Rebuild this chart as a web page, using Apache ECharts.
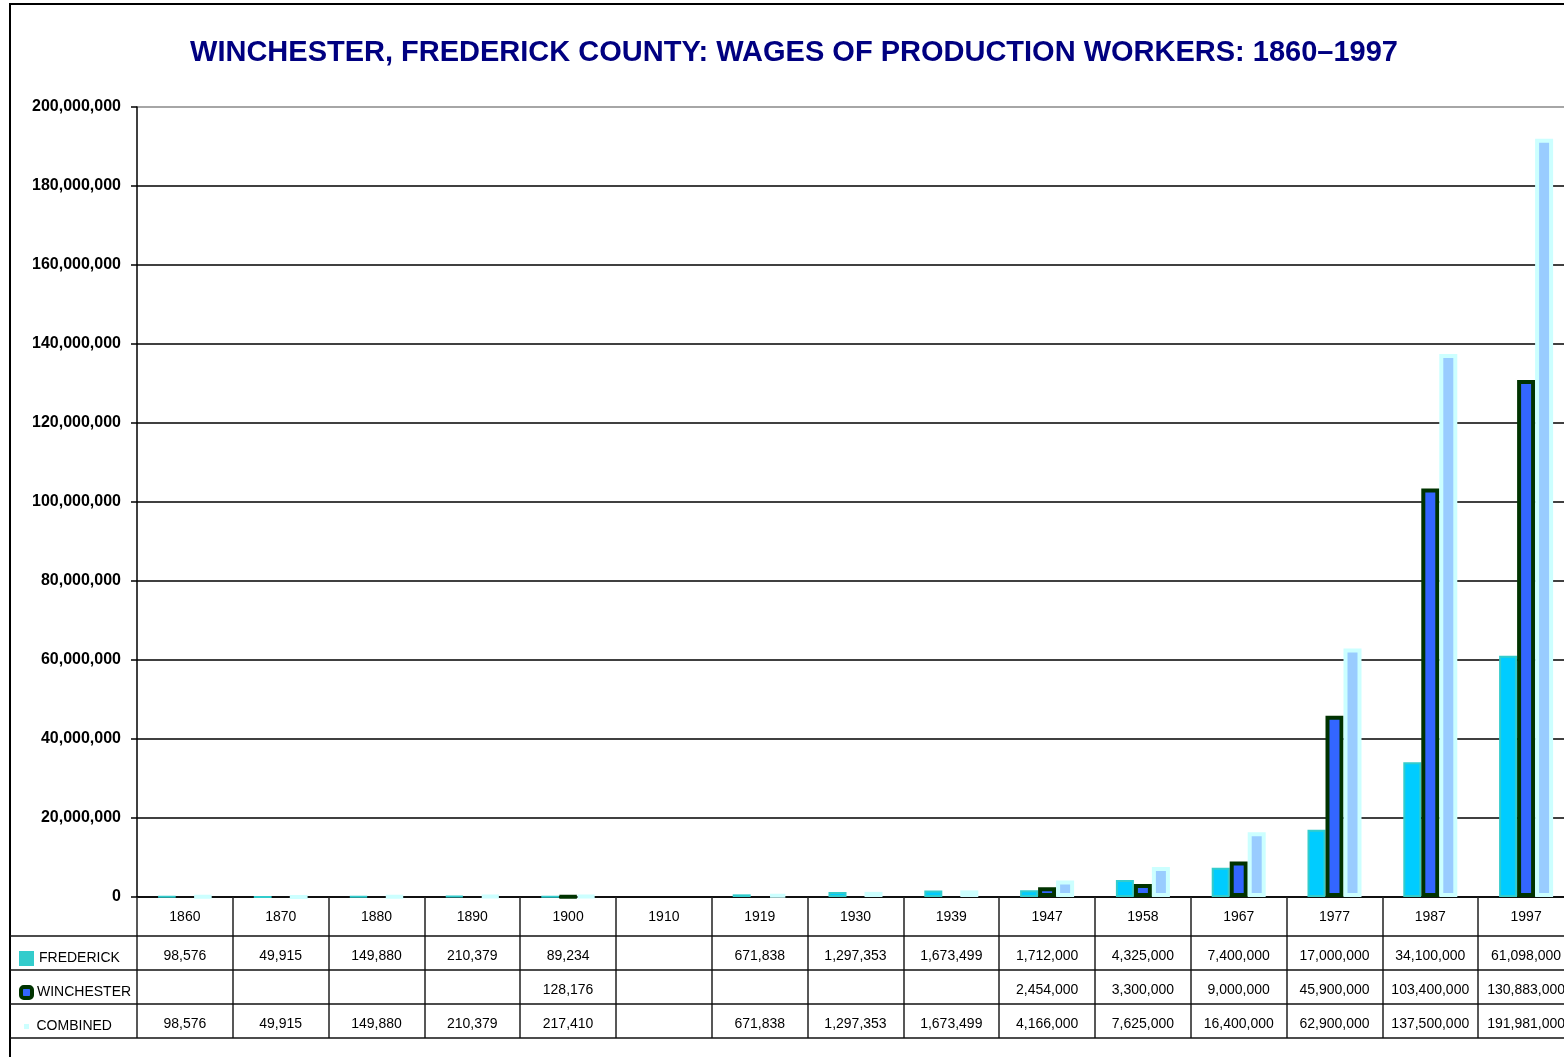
<!DOCTYPE html>
<html>
<head>
<meta charset="utf-8">
<script src="https://cdn.jsdelivr.net/npm/echarts@6/dist/echarts.min.js"></script>
<style>
  html, body { margin: 0; padding: 0; background: #fff; }
  #chart { width: 1564px; height: 1057px; }
</style>
</head>
<body>
<div id="chart"></div>
<script>
const years = ['1860', '1870', '1880', '1890', '1900', '1910', '1919', '1930', '1939', '1947', '1958', '1967', '1977', '1987', '1997'];
const frederick = [98576, 49915, 149880, 210379, 89234, null, 671838, 1297353, 1673499, 1712000, 4325000, 7400000, 17000000, 34100000, 61098000];
const winchester = [null, null, null, null, 128176, null, null, null, null, 2454000, 3300000, 9000000, 45900000, 103400000, 130883000];
const combined = [98576, 49915, 149880, 210379, 217410, null, 671838, 1297353, 1673499, 4166000, 7625000, 16400000, 62900000, 137500000, 191981000];
const yTicks = { min: 0, max: 200000000, interval: 20000000 };

const FONT = '"Liberation Sans", Arial, sans-serif';
const gridLeft = 137;
const gridTop = 107;
const gridWidth = 1437;
const gridBottomY = 897;
const headerH = 39;
const rowH = 34;

const fmt = (v) => (v == null ? '' : v.toLocaleString('en-US'));

// table rows, one per series; icon size + border always makes a 15px key
const rows = [
  { name: 'FREDERICK', values: frederick, size: 15, icon: { color: '#33CCCC', borderWidth: 0 } },
  { name: 'WINCHESTER', values: winchester, size: 11, icon: { color: '#3366FF', borderColor: '#003300', borderWidth: 4 } },
  { name: 'COMBINED', values: combined, size: 10, icon: { color: '#CCFFFF', borderColor: '#ffffff', borderWidth: 5 } },
];

const rowAxis = (values, offset, height) => ({
  type: 'category',
  data: years,
  gridIndex: 0,
  position: 'bottom',
  offset,
  axisLine: { show: false, onZero: false },
  axisTick: { show: true, interval: 0, length: height, lineStyle: { color: '#222', width: 1.5 } },
  axisLabel: {
    interval: 0,
    margin: 13,
    fontFamily: FONT,
    fontSize: 14,
    color: '#000',
    formatter: (v, i) => fmt(values[i]),
  },
});

// one legend per table row so each sits in its own row
const legends = rows.map((r, i) => ({
  orient: 'vertical',
  left: 14,
  top: gridBottomY + headerH + rowH * i + 10,
  itemWidth: r.size,
  itemHeight: r.size,
  itemGap: 0,
  selectedMode: false,
  textStyle: { fontSize: 14, color: '#000', fontFamily: FONT },
  data: [{ name: r.name, icon: i === 1 ? 'roundRect' : 'rect', itemStyle: r.icon }],
}));

// horizontal table lines
const lineYs = [gridBottomY + headerH];
rows.forEach((r, i) => lineYs.push(gridBottomY + headerH + rowH * (i + 1)));
const tableLines = lineYs.map((y) => ({
  type: 'line',
  shape: { x1: 10, y1: y, x2: 1564, y2: y },
  style: { stroke: '#111', lineWidth: 1.5 },
  z: 10,
}));

const chart = echarts.init(document.getElementById('chart'));
chart.setOption({
  backgroundColor: '#fff',
  animation: false,
  textStyle: { fontFamily: FONT },
  title: {
    text: 'WINCHESTER, FREDERICK COUNTY: WAGES OF PRODUCTION WORKERS: 1860\u20131997',
    left: 789,
    top: 33,
    textAlign: 'center',
    textStyle: { color: '#000080', fontSize: 29, fontWeight: 'bold', fontFamily: FONT },
  },
  legend: legends,
  grid: {
    left: gridLeft,
    top: gridTop,
    width: gridWidth,
    height: gridBottomY - gridTop,
    containLabel: false,
    outerBoundsMode: 'none',
  },
  xAxis: [
    {
      type: 'category',
      data: years,
      position: 'bottom',
      axisLine: { show: true, onZero: false, lineStyle: { color: '#000', width: 1.5 } },
      axisTick: { show: true, interval: 0, length: headerH, lineStyle: { color: '#222', width: 1.5 } },
      axisLabel: { interval: 0, margin: 13, fontFamily: FONT, fontSize: 14, color: '#000' },
    },
    ...rows.map((r, i) => rowAxis(r.values, headerH + rowH * i, rowH)),
  ],
  yAxis: {
    type: 'value',
    ...yTicks,
    axisLine: { show: true, lineStyle: { color: '#000', width: 1.5 } },
    axisTick: { show: true, length: 6, lineStyle: { color: '#000', width: 1.5 } },
    axisLabel: {
      margin: 16,
      fontFamily: FONT,
      fontSize: 16,
      fontWeight: 'bold',
      color: '#000',
      formatter: (v) => v.toLocaleString('en-US'),
    },
    splitLine: {
      show: true,
      lineStyle: {
        width: 1.5,
        color: ['#000', '#000', '#000', '#000', '#000', '#000', '#000', '#000', '#000', '#000', '#888'],
      },
    },
  },
  graphic: [
    {
      type: 'rect',
      shape: { x: 10, y: 4, width: 1700, height: 1200 },
      style: { fill: 'none', stroke: '#000', lineWidth: 2 },
      z: 10,
    },
    ...tableLines,
  ],
  series: [
    {
      name: 'FREDERICK',
      type: 'bar',
      data: frederick,
      barWidth: 18,
      barGap: '0%',
      itemStyle: { color: '#00CCFF', borderColor: '#33CCCC', borderWidth: 2 },
    },
    {
      name: 'WINCHESTER',
      type: 'bar',
      data: winchester,
      barWidth: 18,
      barGap: '0%',
      itemStyle: { color: '#3366FF', borderColor: '#003300', borderWidth: 4 },
    },
    {
      name: 'COMBINED',
      type: 'bar',
      data: combined,
      barWidth: 18,
      barGap: '0%',
      itemStyle: { color: '#99CCFF', borderColor: '#CCFFFF', borderWidth: 4 },
    },
  ],
});
</script>
</body>
</html>
